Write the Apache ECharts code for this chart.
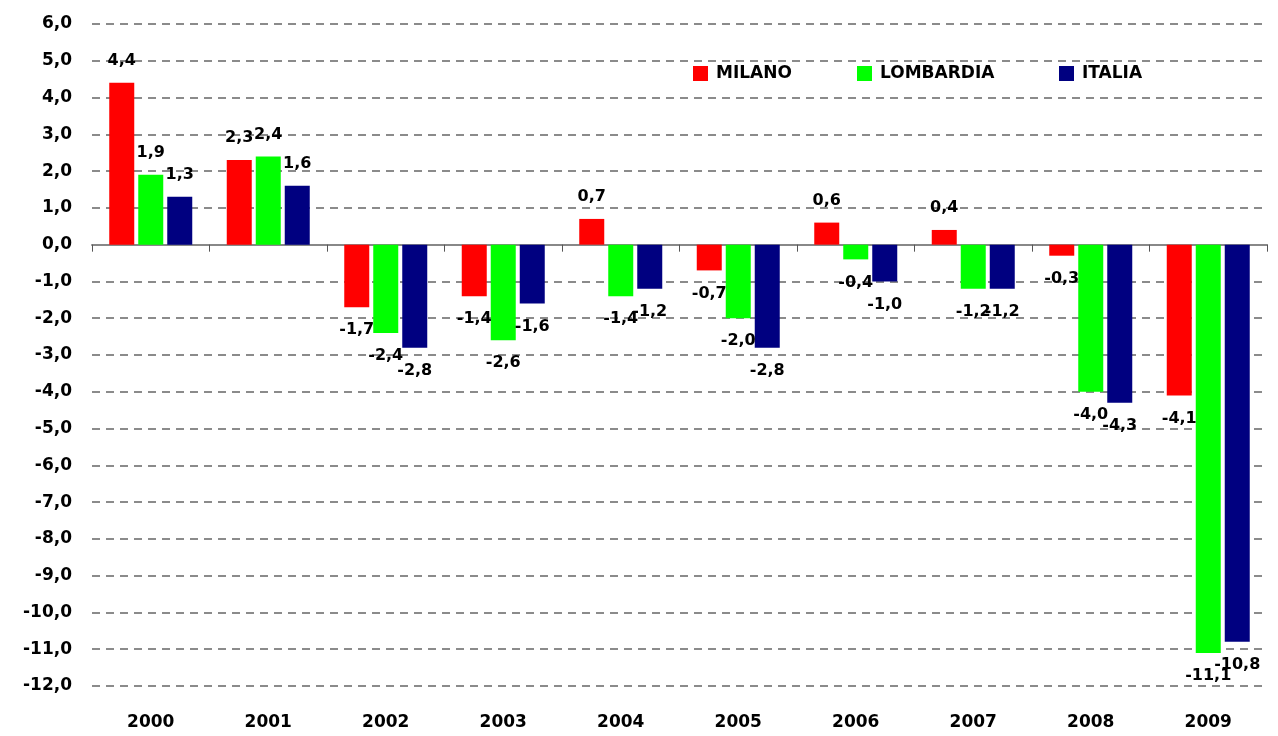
<!DOCTYPE html>
<html>
<head>
<meta charset="utf-8">
<script src="https://cdn.jsdelivr.net/npm/echarts@6/dist/echarts.min.js"></script>
<style>html,body{margin:0;padding:0;background:#fff}#c{width:1278px;height:736px}</style>
</head>
<body>
<div id="c"></div>
<script>
var categories = ['2000','2001','2002','2003','2004','2005','2006','2007','2008','2009'];
var seriesNames = ['MILANO','LOMBARDIA','ITALIA'];
var milano    = [4.4, 2.3, -1.7, -1.4, 0.7, -0.7, 0.6, 0.4, -0.3, -4.1];
var lombardia = [1.9, 2.4, -2.4, -2.6, -1.4, -2.0, -0.4, -1.2, -4.0, -11.1];
var italia    = [1.3, 1.6, -2.8, -1.6, -1.2, -2.8, -1.0, -1.2, -4.3, -10.8];
var colors = ['#ff0000', '#00ff00', '#000080'];

var FONT = '"DejaVu Sans", sans-serif';
function fmt(v){ return Number(v).toFixed(1).replace('.', ','); }

function makeData(arr){
  return arr.map(function(v){
    return {
      value: v,
      label: {
        position: v >= 0 ? 'top' : 'bottom',
        distance: v >= 0 ? 14 : 15
      }
    };
  });
}

var allData = [milano, lombardia, italia];
var series = allData.map(function(arr, i){
  return {
    name: seriesNames[i],
    type: 'bar',
    xAxisIndex: 0,
    data: makeData(arr),
    barWidth: 25,
    barGap: '16%',
    itemStyle: { color: colors[i] },
    label: {
      show: true,
      fontFamily: FONT,
      fontWeight: 'bold',
      fontSize: 16,
      color: '#000',
      formatter: function(p){ return fmt(p.value); }
    }
  };
});

var legendLefts = [688, 852, 1054];
var legends = seriesNames.map(function(n, i){
  return {
    data: [n],
    left: legendLefts[i],
    top: 60,
    itemWidth: 15,
    itemHeight: 15,
    itemGap: 0,
    icon: 'rect',
    textStyle: { fontFamily: FONT, fontWeight: 'bold', fontSize: 17, color: '#000', padding: [0, 0, 0, 3] },
    selectedMode: false
  };
});

var chart = echarts.init(document.getElementById('c'));
chart.setOption({
  animation: false,
  backgroundColor: '#fff',
  legend: legends,
  grid: { left: 92, right: 11, top: 24, bottom: 50 },
  xAxis: [
    {
      type: 'category',
      data: categories,
      axisLine: { onZero: true, lineStyle: { color: '#888', width: 2 } },
      axisTick: { show: true, length: 7, lineStyle: { color: '#555', width: 1 } },
      axisLabel: { show: false },
      splitLine: { show: false }
    },
    {
      type: 'category',
      data: categories,
      position: 'bottom',
      axisLine: { show: false, onZero: false },
      axisTick: { show: false },
      axisLabel: { fontFamily: FONT, fontWeight: 'bold', fontSize: 17, color: '#000', margin: 28 },
      splitLine: { show: false }
    }
  ],
  yAxis: {
    type: 'value',
    min: -12,
    max: 6,
    interval: 1,
    axisLine: { show: false },
    axisTick: { show: false },
    axisLabel: {
      fontFamily: FONT, fontWeight: 'bold', fontSize: 17, color: '#000', margin: 20,
      formatter: function(v){ return fmt(v); }
    },
    splitLine: { show: true, lineStyle: { color: '#666', type: [8, 6], width: 1.5 } }
  },
  series: series
});
</script>
</body>
</html>
